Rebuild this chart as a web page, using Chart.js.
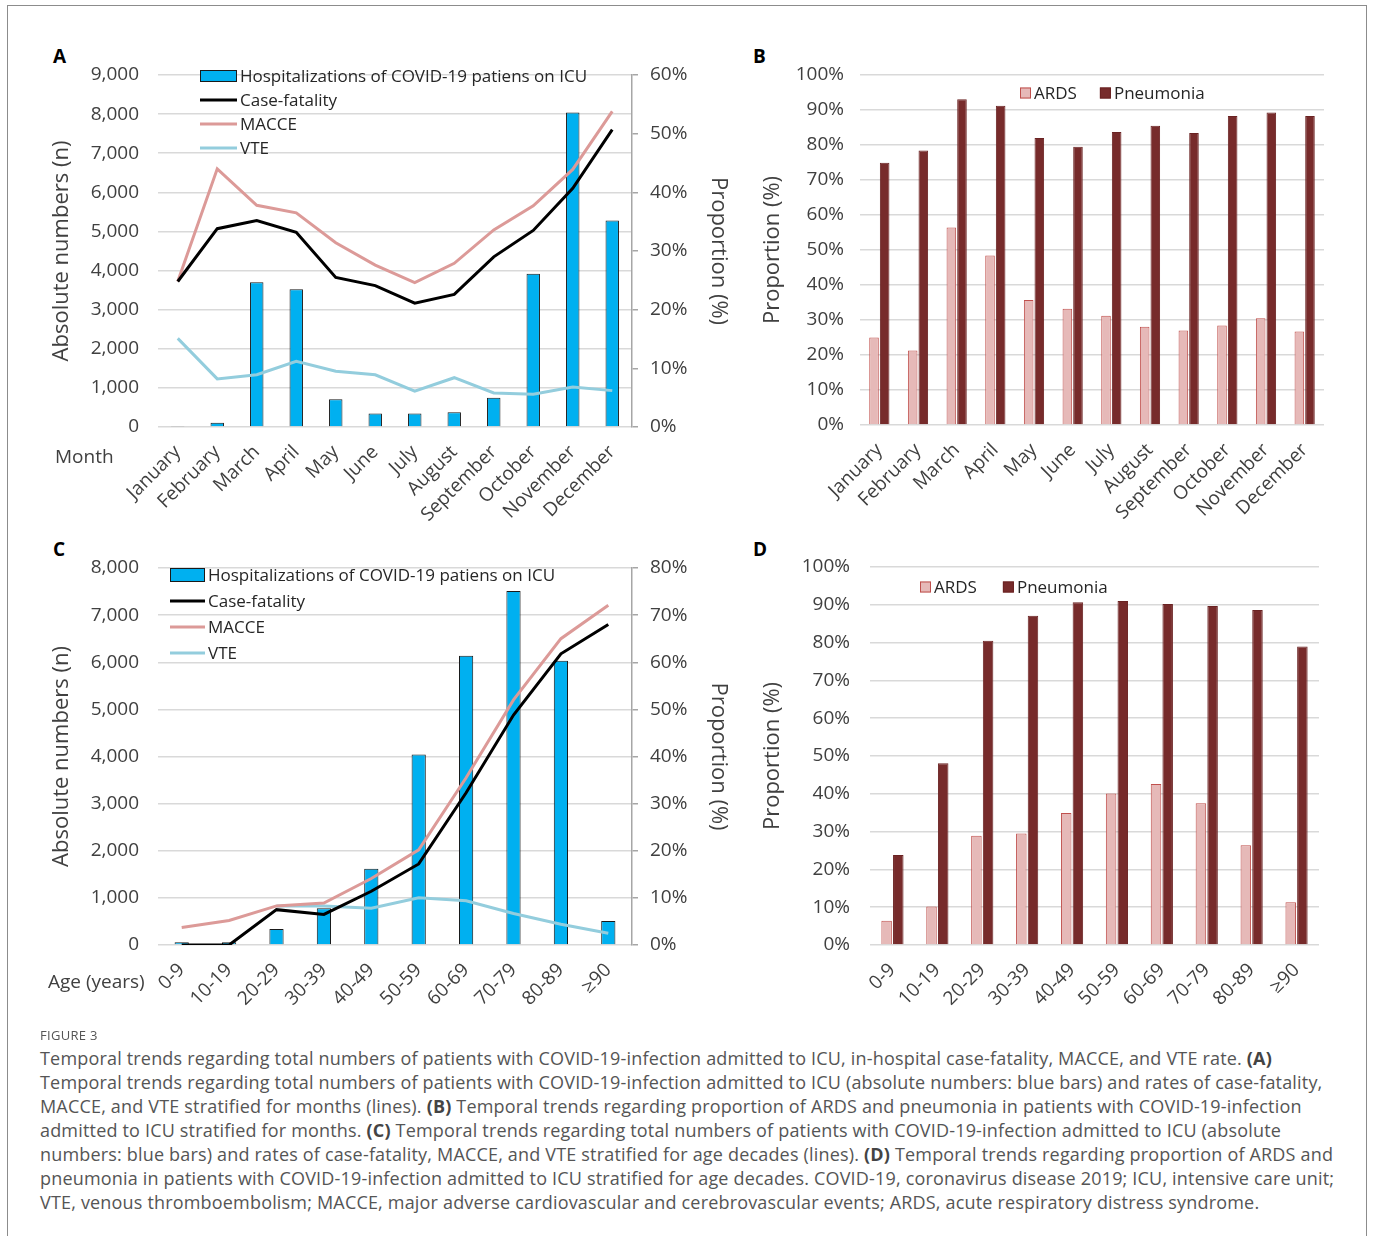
<!DOCTYPE html>
<html>
<head>
<meta charset="utf-8">
<script src="https://cdn.jsdelivr.net/npm/chart.js@4.4.0/dist/chart.umd.min.js"></script>
<style>
body { margin: 0; background: #fff; width: 1373px; height: 1236px; overflow: hidden; position: relative; font-family: 'Open Sans', sans-serif; }
.frame { position: absolute; left: 7px; top: 5px; width: 1358px; height: 1260px; border: 1.5px solid #8c8c8c; }
.panel { position: absolute; }
.letter { position: absolute; font: bold 19px 'Open Sans', sans-serif; color: #000; }
.axname { position: absolute; font: 19px 'Open Sans', sans-serif; color: #404040; white-space: nowrap; }
.fig { position: absolute; left: 40px; top: 1026px; font: 13px 'Open Sans', sans-serif; color: #555; letter-spacing: .3px; }
.cap { position: absolute; left: 40px; top: 1046px; font: 18px/24px 'Open Sans', sans-serif; letter-spacing: .18px; color: #555; white-space: nowrap; }
.cap b { color: #444; }
</style>
</head>
<body>
<div class="frame"></div>

<div class="letter" style="left:53px;top:43px">A</div>
<div class="letter" style="left:753px;top:43px">B</div>
<div class="letter" style="left:53px;top:536px">C</div>
<div class="letter" style="left:753px;top:536px">D</div>

<div class="panel" style="left:40px;top:40px"><canvas id="chartA" width="700" height="490"></canvas></div>
<div class="panel" style="left:740px;top:40px"><canvas id="chartB" width="630" height="490"></canvas></div>
<div class="panel" style="left:40px;top:530px"><canvas id="chartC" width="700" height="480"></canvas></div>
<div class="panel" style="left:740px;top:530px"><canvas id="chartD" width="630" height="480"></canvas></div>

<div class="axname" style="left:55px;top:443px">Month</div>
<div class="axname" style="left:48px;top:968px">Age (years)</div>

<div class="fig">FIGURE 3</div>
<div class="cap">
Temporal trends regarding total numbers of patients with COVID-19-infection admitted to ICU, in-hospital case-fatality, MACCE, and VTE rate. <b>(A)</b><br>
Temporal trends regarding total numbers of patients with COVID-19-infection admitted to ICU (absolute numbers: blue bars) and rates of case-fatality,<br>
MACCE, and VTE stratified for months (lines). <b>(B)</b> Temporal trends regarding proportion of ARDS and pneumonia in patients with COVID-19-infection<br>
admitted to ICU stratified for months. <b>(C)</b> Temporal trends regarding total numbers of patients with COVID-19-infection admitted to ICU (absolute<br>
numbers: blue bars) and rates of case-fatality, MACCE, and VTE stratified for age decades (lines). <b>(D)</b> Temporal trends regarding proportion of ARDS and<br>
pneumonia in patients with COVID-19-infection admitted to ICU stratified for age decades. COVID-19, coronavirus disease 2019; ICU, intensive care unit;<br>
VTE, venous thromboembolism; MACCE, major adverse cardiovascular and cerebrovascular events; ARDS, acute respiratory distress syndrome.
</div>

<script>
const months = ['January', 'February', 'March', 'April', 'May', 'June', 'July', 'August', 'September', 'October', 'November', 'December']
const ages = ['0-9', '10-19', '20-29', '30-39', '40-49', '50-59', '60-69', '70-79', '80-89', '≥90']

// panel A (bars: absolute numbers, lines: %)
const icuMonth = [25, 110, 3700, 3520, 710, 345, 345, 375, 750, 3920, 8040, 5280]
const fatalityMonth = [24.8, 33.8, 35.2, 33.2, 25.5, 24.1, 21.1, 22.6, 29.0, 33.5, 40.7, 50.7]
const macceMonth = [24.8, 44.0, 37.8, 36.5, 31.4, 27.6, 24.6, 27.9, 33.6, 37.7, 43.9, 53.8]
const vteMonth = [15.1, 8.2, 8.9, 11.2, 9.5, 8.9, 6.1, 8.4, 5.8, 5.6, 6.8, 6.2]

// panel B (%)
const ardsMonth = [25.0, 21.3, 56.4, 48.4, 35.7, 33.2, 31.2, 28.1, 27.0, 28.4, 30.5, 26.7]
const pneuMonth = [74.9, 78.4, 93.1, 91.2, 82.0, 79.5, 83.7, 85.5, 83.4, 88.3, 89.3, 88.3]

// panel C
const icuAge = [60, 60, 340, 780, 1620, 4040, 6140, 7510, 6030, 510]
const fatalityAge = [0, 0, 7.5, 6.5, 11.4, 17.2, 32.3, 48.8, 61.8, 68.0]
const macceAge = [3.7, 5.2, 8.3, 8.9, 14.1, 20.2, 35.5, 52.0, 65.0, 72.1]
const vteAge = [null, null, 8.3, 8.3, 7.8, 10.0, 9.4, 6.7, 4.4, 2.5]

// panel D (%)
const ardsAge = [6.4, 10.2, 28.9, 29.5, 34.9, 40.1, 42.6, 37.5, 26.4, 11.3]
const pneuAge = [23.8, 48.1, 80.5, 87.1, 90.7, 91.0, 90.2, 89.7, 88.6, 79.0]

const tickColor = '#404040'
const gridColor = '#d9d9d9'
const tickFont = { family: 'Open Sans', size: 19 }
const titleFont = { family: 'Open Sans', size: 22 }

// legend drawn inside the plot area, like the excel original
const boxLegend = {
    id: 'boxLegend',
    afterDraw(chart, args, opts) {
        const ctx = chart.ctx
        const area = chart.chartArea
        let x = area.left + opts.x
        let y = area.top + opts.y
        ctx.save()
        ctx.font = opts.size + 'px "Open Sans"'
        ctx.textBaseline = 'middle'
        chart.data.datasets.forEach(ds => {
            if (ds.type === 'line') {
                ctx.strokeStyle = ds.borderColor
                ctx.lineWidth = ds.borderWidth
                ctx.beginPath()
                ctx.moveTo(x, y)
                ctx.lineTo(x + opts.w, y)
                ctx.stroke()
            } else {
                ctx.fillStyle = ds.backgroundColor
                ctx.fillRect(x, y - opts.h / 2, opts.w, opts.h)
                ctx.strokeStyle = ds.borderColor
                ctx.lineWidth = 1
                ctx.strokeRect(x + 0.5, y - opts.h / 2 + 0.5, opts.w - 1, opts.h - 1)
            }
            ctx.fillStyle = '#262626'
            ctx.fillText(ds.label, x + opts.w + 3, y + 1)
            if (opts.row) {
                x += opts.w + 3 + ctx.measureText(ds.label).width + opts.gap
            } else {
                y += opts.gap
            }
        })
        ctx.restore()
    }
}

function thousands(v) {
    return v.toLocaleString('en-US')
}

function percent(v) {
    return v + '%'
}

function comboChart(id, labels, bars, fatality, macce, vte, opt) {
    const ctx = document.getElementById(id).getContext('2d')
    return new Chart(ctx, {
        data: {
            labels: labels,
            datasets: [
                { type: 'bar', label: 'Hospitalizations of COVID-19 patiens on ICU', data: bars, yAxisID: 'y',
                  backgroundColor: '#00b0f0', borderColor: '#1a1a1a', borderWidth: 1,
                  barPercentage: opt.barPct, categoryPercentage: 1, order: 4 },
                { type: 'line', label: 'Case-fatality', data: fatality, yAxisID: 'y2',
                  borderColor: '#000000', borderWidth: 3, pointRadius: 0, tension: 0, order: 1 },
                { type: 'line', label: 'MACCE', data: macce, yAxisID: 'y2',
                  borderColor: '#dc9a98', borderWidth: 3, pointRadius: 0, tension: 0, order: 2 },
                { type: 'line', label: 'VTE', data: vte, yAxisID: 'y2',
                  borderColor: '#93cddd', borderWidth: 3, pointRadius: 0, tension: 0, order: 3 }
            ]
        },
        options: {
            responsive: false,
            animation: false,
            layout: { padding: { top: opt.top, left: 0, right: 0, bottom: 0 } },
            plugins: {
                legend: { display: false },
                tooltip: { enabled: false },
                boxLegend: opt.legend
            },
            scales: {
                x: {
                    grid: { display: false },
                    border: { display: false },
                    ticks: { autoSkip: false, minRotation: 45, maxRotation: 45, padding: 6, font: tickFont, color: tickColor },
                    afterFit: s => { s.height = opt.xHeight }
                },
                y: {
                    position: 'left',
                    min: 0, max: opt.yMax,
                    ticks: { stepSize: 1000, padding: 19, font: tickFont, color: tickColor, callback: thousands },
                    grid: { color: gridColor, lineWidth: 1.5, drawTicks: false },
                    border: { display: false },
                    title: { display: true, text: 'Absolute numbers (n)', font: titleFont, color: tickColor, padding: { top: 9, bottom: 0 } },
                    afterFit: s => { s.width = 118 }
                },
                y2: {
                    position: 'right',
                    min: 0, max: opt.y2Max,
                    ticks: { stepSize: 10, padding: 12, font: tickFont, color: tickColor, callback: percent },
                    grid: { drawOnChartArea: false, color: '#a6a6a6', tickLength: 6, lineWidth: 1.5 },
                    border: { color: '#a6a6a6', width: 1.5 },
                    title: { display: true, text: 'Proportion (%)', font: titleFont, color: tickColor, padding: { top: 9, bottom: 0 } },
                    afterFit: s => { s.width = 108 }
                }
            }
        },
        plugins: [boxLegend]
    })
}

function pairChart(id, labels, ards, pneu, opt) {
    const ctx = document.getElementById(id).getContext('2d')
    return new Chart(ctx, {
        type: 'bar',
        data: {
            labels: labels,
            datasets: [
                { label: 'ARDS', data: ards, backgroundColor: '#e6b9b8', borderColor: '#c0504d', borderWidth: 1,
                  barPercentage: 0.9, categoryPercentage: opt.catPct },
                { label: 'Pneumonia', data: pneu, backgroundColor: '#772b2b', borderColor: '#6a2323', borderWidth: 1,
                  barPercentage: 0.9, categoryPercentage: opt.catPct }
            ]
        },
        options: {
            responsive: false,
            animation: false,
            layout: { padding: { top: opt.top, left: 0, right: opt.right, bottom: 0 } },
            plugins: {
                legend: { display: false },
                tooltip: { enabled: false },
                boxLegend: opt.legend
            },
            scales: {
                x: {
                    grid: { display: false },
                    border: { display: false },
                    ticks: { autoSkip: false, minRotation: 45, maxRotation: 45, padding: 6, font: tickFont, color: tickColor },
                    afterFit: s => { s.height = opt.xHeight }
                },
                y: {
                    min: 0, max: 100,
                    ticks: { stepSize: 10, padding: opt.tickPad, font: tickFont, color: tickColor, callback: percent },
                    grid: { color: gridColor, lineWidth: 1.5, drawTicks: false },
                    border: { display: false },
                    title: { display: true, text: 'Proportion (%)', font: titleFont, color: tickColor, padding: { top: 20, bottom: 0 } },
                    afterFit: s => { s.width = opt.yWidth }
                }
            }
        },
        plugins: [boxLegend]
    })
}

comboChart('chartA', months, icuMonth, fatalityMonth, macceMonth, vteMonth, {
    top: 35, xHeight: 103, yMax: 9000, y2Max: 60, barPct: 0.34,
    legend: { x: 42, y: 1, w: 37, h: 12, gap: 24, size: 17, row: false }
})

pairChart('chartB', months, ardsMonth, pneuMonth, {
    top: 35, xHeight: 105, right: 46, yWidth: 120, tickPad: 16, catPct: 0.55,
    legend: { x: 160, y: 18, w: 11, h: 11, gap: 23, size: 17, row: true }
})

comboChart('chartC', ages, icuAge, fatalityAge, macceAge, vteAge, {
    top: 38, xHeight: 65, yMax: 8000, y2Max: 80, barPct: 0.3,
    legend: { x: 12, y: 7, w: 35, h: 14, gap: 26, size: 17, row: false }
})

pairChart('chartD', ages, ardsAge, pneuAge, {
    top: 37, xHeight: 65, right: 51, yWidth: 130, tickPad: 20, catPct: 0.52,
    legend: { x: 50, y: 20, w: 11, h: 11, gap: 26, size: 17, row: true }
})
</script>
</body>
</html>
